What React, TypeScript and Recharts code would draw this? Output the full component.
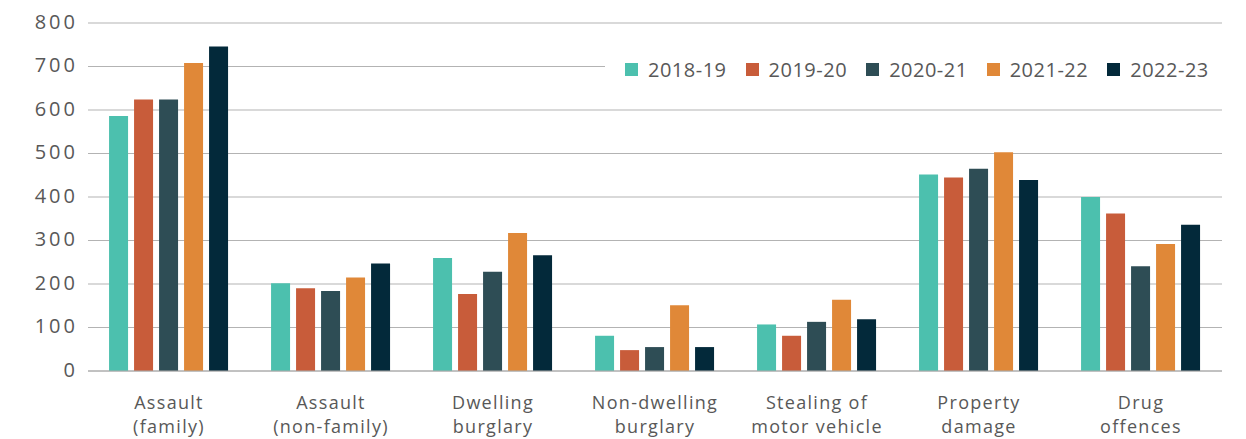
import React from "react";
import { BarChart, Bar, XAxis, YAxis, CartesianGrid } from "recharts";

const categories = [
  "Assault\n(family)",
  "Assault\n(non-family)",
  "Dwelling\nburglary",
  "Non-dwelling\nburglary",
  "Stealing of\nmotor vehicle",
  "Property\ndamage",
  "Drug\noffences",
];

const years = ["2018-19", "2019-20", "2020-21", "2021-22", "2022-23"];
const colors = ["#4cc0ae", "#c85c3a", "#2e4d55", "#e08838", "#03293a"];

const v2018 = [586, 202, 260, 81, 107, 452, 400];
const v2019 = [624, 190, 177, 48, 81, 445, 362];
const v2020 = [624, 184, 228, 55, 113, 465, 241];
const v2021 = [708, 215, 317, 151, 164, 503, 292];
const v2022 = [746, 247, 266, 55, 119, 439, 336];

const yTicks = [0, 100, 200, 300, 400, 500, 600, 700, 800];

const series = [v2018, v2019, v2020, v2021, v2022];

const data = categories.map((name, i) => {
  const row: Record<string, string | number> = { name };
  years.forEach((y, k) => {
    row[y] = series[k][i];
  });
  return row;
});

const FONT = "'Open Sans', sans-serif";
const TEXT = "#585858";

function XTick({ x, y, payload }: any) {
  const lines = String(payload.value).split("\n");
  return (
    <g transform={`translate(${x},${y})`}>
      {lines.map((l, i) => (
        <text
          key={i}
          x={0}
          y={23 + i * 24}
          textAnchor="middle"
          dominantBaseline="central"
          fill={TEXT}
          fontSize={18}
          fontFamily={FONT}
          letterSpacing={1.3}
        >
          {l}
        </text>
      ))}
    </g>
  );
}

function YTick({ x, y, payload }: any) {
  return (
    <text
      x={x + 3}
      y={y - 2}
      textAnchor="end"
      dominantBaseline="central"
      fill={TEXT}
      fontSize={20}
      fontFamily={FONT}
      letterSpacing={3}
    >
      {payload.value}
    </text>
  );
}

export default function App() {
  return (
    <div style={{ position: "absolute", left: 0, top: 0, width: 1246, height: 439, background: "#fff" }}>
      <BarChart
        width={1246}
        height={439}
        data={data}
        margin={{ top: 23, right: 24, left: 0, bottom: 0 }}
        barCategoryGap="13%"
        barGap={6}
      >
        <CartesianGrid vertical={false} stroke="#b3b3b3" />
        <XAxis
          dataKey="name"
          interval={0}
          height={68}
          tickLine={false}
          axisLine={{ stroke: "#aaaaaa" }}
          tick={<XTick />}
        />
        <YAxis
          width={88}
          domain={[0, 800]}
          ticks={yTicks}
          tickLine={false}
          axisLine={false}
          tickSize={0}
          tickMargin={13}
          tick={<YTick />}
        />
        {years.map((y, k) => (
          <Bar key={y} dataKey={y} fill={colors[k]} isAnimationActive={false} />
        ))}
      </BarChart>
      <div
        style={{
          position: "absolute",
          left: 605,
          top: 56,
          width: 617,
          height: 26,
          background: "#fff",
          display: "flex",
          alignItems: "center",
          whiteSpace: "nowrap",
          fontFamily: FONT,
          fontSize: 20,
          letterSpacing: 0.5,
          color: TEXT,
        }}
      >
        {years.map((y, k) => (
          <div key={y} style={{ display: "flex", alignItems: "center", flexShrink: 0, marginLeft: k === 0 ? 20 : 19 }}>
            <span style={{ width: 13, height: 13, background: colors[k], display: "inline-block", flexShrink: 0, marginRight: 10 }} />
            <span>{y}</span>
          </div>
        ))}
      </div>
    </div>
  );
}
